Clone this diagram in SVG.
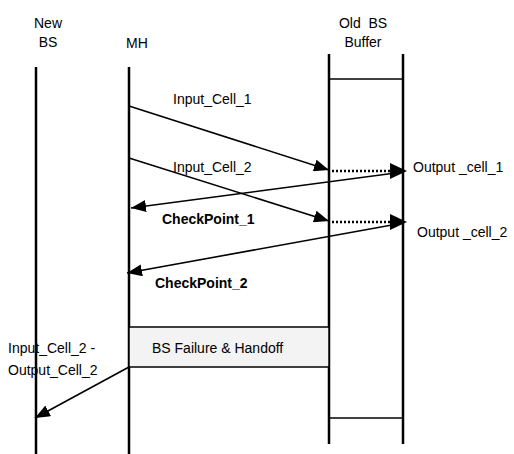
<svg xmlns="http://www.w3.org/2000/svg" width="514" height="454" viewBox="0 0 514 454">
<style>
.t{font-family:"Liberation Sans",Arial,sans-serif;font-size:14px;fill:#000}
.b{font-weight:bold}
.life{stroke:#000;stroke-width:2.5;fill:none}
.thin{stroke:#000;stroke-width:1.5;fill:none}
.msg{stroke:#000;stroke-width:1.6;fill:none;marker-end:url(#ah)}
.dot{stroke:#000;stroke-width:2.5;stroke-dasharray:2 2;fill:none}
.head{fill:#000;stroke:none}
</style>
<defs>
<marker id="ah" markerWidth="16" markerHeight="12" refX="15" refY="6" orient="auto" markerUnits="userSpaceOnUse">
<path d="M0,0 L15,6 L0,12 Z" fill="#000"/>
</marker>
<path id="bighead" d="M-17,-8 L0,0 L-17,8 Z"/>
</defs>
<g id="newbs">
<text class="t" x="48" y="28" text-anchor="middle">New</text>
<text class="t" x="48" y="47" text-anchor="middle">BS</text>
<line class="life" x1="36" y1="67" x2="36" y2="454"/>
</g>
<g id="mh">
<text class="t" x="137" y="48" text-anchor="middle">MH</text>
<line class="life" x1="129" y1="67" x2="129" y2="454"/>
</g>
<g id="oldbs">
<text class="t" x="363" y="28" text-anchor="middle" xml:space="preserve">Old  BS</text>
<text class="t" x="363" y="47" text-anchor="middle">Buffer</text>
<line class="life" x1="329" y1="54" x2="329" y2="444"/>
<line class="life" x1="403" y1="54" x2="403" y2="444"/>
<line class="thin" x1="329" y1="79" x2="403" y2="79"/>
<line class="thin" x1="329" y1="418" x2="403" y2="418"/>
</g>
<g id="handoff">
<rect x="129" y="327" width="200" height="40" fill="#f3f3f3" stroke="#000" stroke-width="1.5"/>
<text class="t" x="152" y="353">BS Failure &amp; Handoff</text>
</g>
<g id="connectors">
<line class="msg" x1="129" y1="106" x2="329" y2="170"/>
<line class="dot" x1="332" y1="171" x2="392" y2="171"/>
<use href="#bighead" class="head" x="407" y="171"/>
<line class="msg" x1="403" y1="172" x2="131" y2="208"/>
<line class="msg" x1="129" y1="158" x2="329" y2="221"/>
<line class="dot" x1="332" y1="222" x2="392" y2="222"/>
<use href="#bighead" class="head" x="407" y="222"/>
<line class="msg" x1="403" y1="223" x2="127" y2="273"/>
<line class="msg" x1="129" y1="367" x2="35" y2="418"/>
</g>
<g id="labels">
<text class="t" x="173" y="104">Input_Cell_1</text>
<text class="t" x="173" y="172">Input_Cell_2</text>
<text class="t" x="413" y="172">Output _cell_1</text>
<text class="t b" x="162" y="224">CheckPoint_1</text>
<text class="t" x="417" y="237">Output _cell_2</text>
<text class="t b" x="155" y="288">CheckPoint_2</text>
<text class="t" x="8" y="353">Input_Cell_2 -</text>
<text class="t" x="8" y="375">Output_Cell_2</text>
</g>
</svg>
